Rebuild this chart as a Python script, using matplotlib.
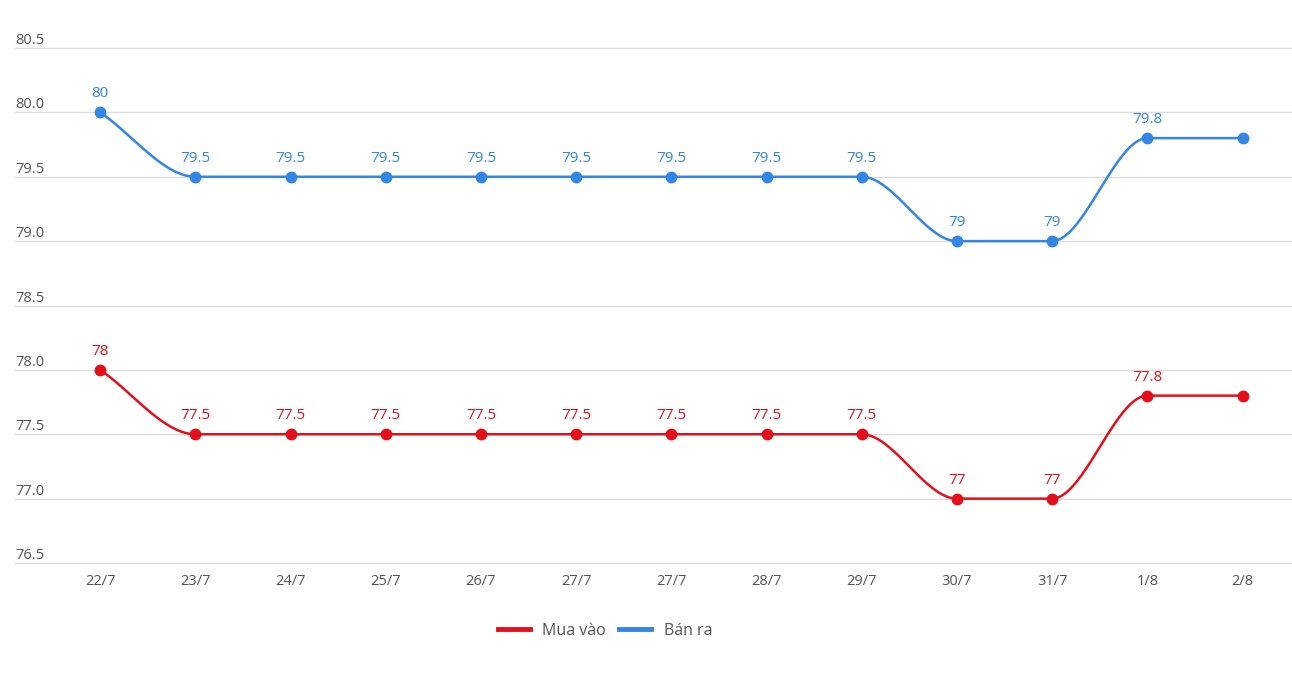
import numpy as np
import matplotlib.pyplot as plt
from matplotlib.lines import Line2D
from matplotlib.transforms import blended_transform_factory

plt.rcParams['font.family'] = ['Open Sans', 'DejaVu Sans']

days = ['22/7', '23/7', '24/7', '25/7', '26/7', '27/7', '27/7', '28/7', '29/7', '30/7', '31/7', '1/8', '2/8']
mua_vao = [78, 77.5, 77.5, 77.5, 77.5, 77.5, 77.5, 77.5, 77.5, 77, 77, 77.8, 77.8]
ban_ra = [80, 79.5, 79.5, 79.5, 79.5, 79.5, 79.5, 79.5, 79.5, 79, 79, 79.8, 79.8]
yticks = [76.5, 77.0, 77.5, 78.0, 78.5, 79.0, 79.5, 80.0, 80.5]

red = '#e3101b'
blue = '#3386e3'


def monotone(x, y, n=40):
    # monotone cubic (Fritsch-Carlson) just for drawing the smooth line
    x = np.asarray(x, float)
    y = np.asarray(y, float)
    h = np.diff(x)
    d = np.diff(y) / h
    m = np.zeros_like(y)
    m[0] = d[0]
    m[-1] = d[-1]
    for i in range(1, len(y) - 1):
        if d[i - 1] * d[i] > 0:
            m[i] = 2 / (1 / d[i - 1] + 1 / d[i])
    xs, ys = [], []
    for i in range(len(h)):
        t = np.linspace(0, 1, n)
        h00 = 2 * t**3 - 3 * t**2 + 1
        h10 = t**3 - 2 * t**2 + t
        h01 = -2 * t**3 + 3 * t**2
        h11 = t**3 - t**2
        xs.append(x[i] + t * h[i])
        ys.append(h00 * y[i] + h10 * h[i] * m[i] + h01 * y[i + 1] + h11 * h[i] * m[i + 1])
    return np.concatenate(xs), np.concatenate(ys)


fig = plt.figure(figsize=(12.92, 6.88), dpi=100)
ax = fig.add_axes([15 / 1292, 125 / 688, 1277 / 1292, 515 / 688])

x = np.arange(len(days))
for vals, col in [(ban_ra, blue), (mua_vao, red)]:
    sx, sy = monotone(x, vals)
    ax.plot(sx, sy, color=col, lw=1.8, zorder=3)
    ax.plot(x, vals, 'o', color=col, ms=7.5, zorder=4)
    # last point has no label in the original
    for xi, v in zip(x[:-1], vals[:-1]):
        ax.annotate(f'{v:g}', (xi, v), xytext=(0, 8), textcoords='offset points',
                    ha='center', va='bottom', color=col, fontsize=11)

ax.set_ylim(76.5, 80.5)
ax.set_xlim(-0.895, 12.52)
ax.set_yticks(yticks)
ax.yaxis.grid(True, color='#dddddd', lw=1)
for gl in ax.get_ygridlines():
    gl.set_clip_on(False)
ax.tick_params(axis='y', length=0, labelleft=False)
tr = blended_transform_factory(ax.transAxes, ax.transData)
for yt in yticks:
    ax.text(0, yt, f'{yt:.1f}', transform=tr, ha='left', va='bottom',
            color='#555555', fontsize=10.5)
ax.set_xticks(x)
ax.set_xticklabels(days, color='#555555', fontsize=10.5)
ax.tick_params(axis='x', length=0, pad=8)
for s in ax.spines.values():
    s.set_visible(False)

handles = [Line2D([], [], color=red, lw=3.5), Line2D([], [], color=blue, lw=3.5)]
fig.legend(handles, ['Mua vào', 'Bán ra'], loc='center', bbox_to_anchor=(605 / 1292, 1 - 631 / 688),
           ncol=2, frameon=False, fontsize=11.5, handlelength=2, columnspacing=0.8,
           labelcolor='#555555')

fig.savefig('out.png', dpi=100)
